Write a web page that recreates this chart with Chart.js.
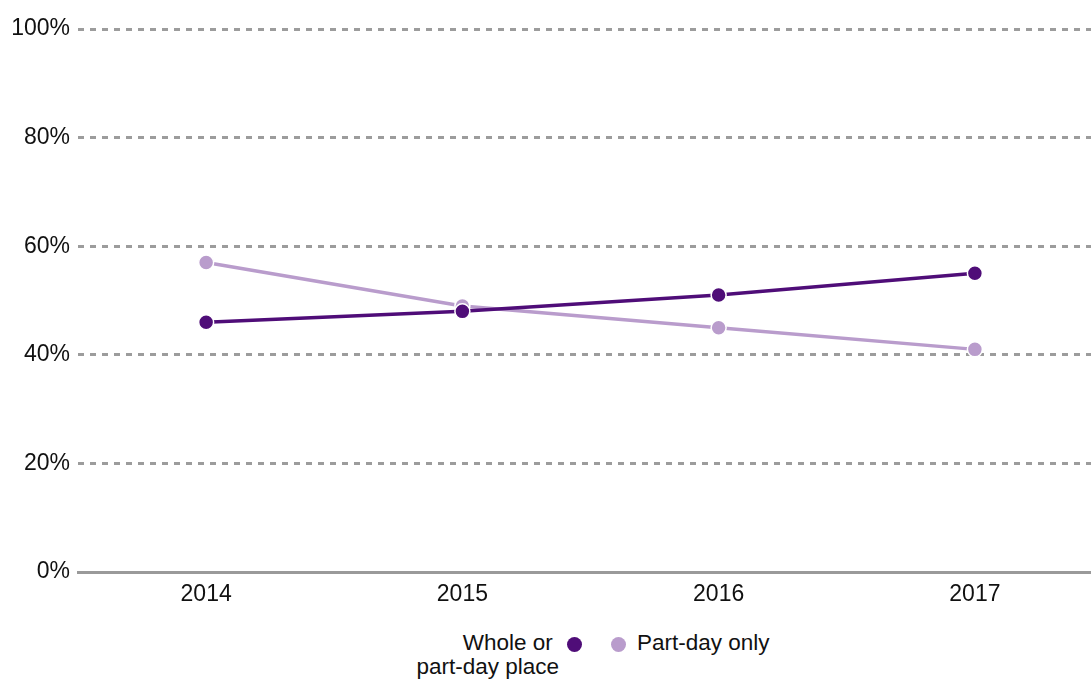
<!DOCTYPE html>
<html>
<head>
<meta charset="utf-8">
<script src="https://cdn.jsdelivr.net/npm/chart.js@4"></script>
<style>
  html, body { margin: 0; padding: 0; background: #fff; overflow: hidden; }
  #lineChart { position: absolute; left: 0; top: 0; }
  #legend {
    position: absolute; left: 0; top: 631px; width: 1091px;
    font-family: "Liberation Sans", Arial, sans-serif; font-size: 22.5px; color: #111;
  }
  .item { position: absolute; top: 0; line-height: 24px; white-space: nowrap; }
  .dot { position: absolute; width: 15px; height: 15px; border-radius: 50%; top: 6px; }
</style>
</head>
<body>
<canvas id="lineChart" width="1112" height="620"></canvas>
<div id="legend">
  <div class="item" style="right: 532px; text-align: right;">Whole or&nbsp;<br>part-day place</div>
  <div class="dot" style="left: 567px; background: #4f0d78;"></div>
  <div class="dot" style="left: 611px; background: #b99ccc;"></div>
  <div class="item" style="left: 637px;">Part-day only</div>
</div>
<script>
document.addEventListener("DOMContentLoaded", function () {
  const years = ["2014", "2015", "2016", "2017"];
  const wholeOrPartDay = [46, 48, 51, 55];
  const partDayOnly = [57, 49, 45, 41];
  const yTicks = [0, 20, 40, 60, 80, 100];

  const dark = "#4f0d78";
  const light = "#b99ccc";
  const tickFont = { family: "'Liberation Sans', Arial, sans-serif", size: 23 };

  // dataset 0 is drawn last, so the dark series sits on top
  const ctx = document.getElementById("lineChart");
  new Chart(ctx, {
    type: "line",
    data: {
      labels: years,
      datasets: [
        {
          label: "Whole or part-day place",
          data: wholeOrPartDay,
          borderColor: dark,
          backgroundColor: dark,
          pointBackgroundColor: dark,
          pointBorderColor: "#fff",
          pointBorderWidth: 1.5,
          pointRadius: 7.5,
          borderWidth: 3.5,
          tension: 0,
        },
        {
          label: "Part-day only",
          data: partDayOnly,
          borderColor: light,
          backgroundColor: light,
          pointBackgroundColor: light,
          pointBorderColor: "#fff",
          pointBorderWidth: 1.5,
          pointRadius: 7.5,
          borderWidth: 3.5,
          tension: 0,
        },
      ],
    },
    options: {
      responsive: false,
      animation: false,
      layout: { padding: { top: 29, right: 0, left: 0, bottom: 0 } },
      plugins: {
        legend: { display: false },
        tooltip: { enabled: false },
      },
      scales: {
        x: {
          offset: true,
          grid: { display: false, drawTicks: false },
          border: { display: true, color: "#9a9a9a", width: 3 },
          ticks: { color: "#111", padding: 9, font: tickFont },
          afterFit: function (scale) { scale.height = 48; },
        },
        y: {
          min: 0,
          max: 100,
          afterBuildTicks: function (scale) {
            scale.ticks = yTicks.map(function (v) { return { value: v }; });
          },
          grid: {
            drawTicks: false,
            color: function (c) { return c.tick && c.tick.value === 0 ? "rgba(0,0,0,0)" : "#9c9c9c"; },
            lineWidth: 3,
          },
          border: { display: false, dash: [6, 6] },
          ticks: {
            color: "#111",
            padding: 8,
            font: tickFont,
            callback: function (v) { return v + "%"; },
          },
          afterFit: function (scale) { scale.width = 78; },
        },
      },
    },
  });
});
</script>
</body>
</html>
